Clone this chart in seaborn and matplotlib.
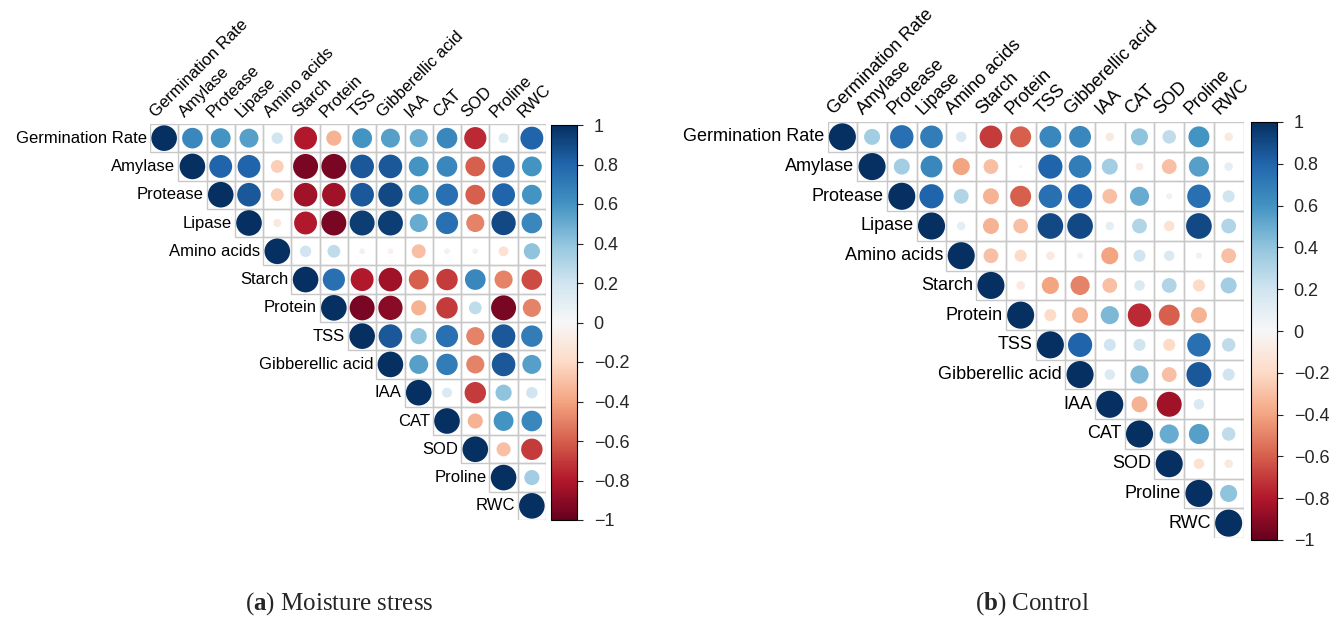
import numpy as np
import pandas as pd
import matplotlib.pyplot as plt
import seaborn as sns
from matplotlib.patches import Rectangle
from matplotlib.colors import Normalize
from matplotlib.cm import ScalarMappable

## variables (same order for rows and columns)
variables = ['Germination Rate', 'Amylase', 'Protease', 'Lipase', 'Amino acids',
             'Starch', 'Protein', 'TSS', 'Gibberellic acid', 'IAA', 'CAT', 'SOD',
             'Proline', 'RWC']

## upper triangle, row by row, values to the right of the diagonal
stress_rows = [
    [0.65, 0.60, 0.55, 0.20, -0.80, -0.35, 0.60, 0.55, 0.50, 0.65, -0.75, 0.15, 0.80],
    [0.80, 0.80, -0.25, -0.95, -0.95, 0.85, 0.85, 0.60, 0.65, -0.60, 0.75, 0.60],
    [0.85, -0.25, -0.85, -0.85, 0.85, 0.90, 0.60, 0.75, -0.60, 0.80, 0.60],
    [-0.10, -0.80, -0.95, 0.95, 0.95, 0.50, 0.75, -0.50, 0.90, 0.65],
    [0.20, 0.25, 0.05, -0.05, -0.30, 0.05, 0.05, -0.15, 0.40],
    [0.75, -0.80, -0.85, -0.60, -0.70, 0.65, -0.50, -0.65],
    [-0.95, -0.90, -0.35, -0.70, 0.25, -0.95, -0.50],
    [0.85, 0.40, 0.75, -0.50, 0.85, 0.70],
    [0.55, 0.70, -0.50, 0.85, 0.55],
    [0.15, -0.70, 0.40, 0.20],
    [-0.35, 0.60, 0.65],
    [-0.30, -0.70],
    [0.35],
]

control_rows = [
    [0.35, 0.75, 0.70, 0.15, -0.70, -0.60, 0.65, 0.65, -0.10, 0.40, 0.25, 0.60, -0.10],
    [0.35, 0.65, -0.40, -0.30, 0.02, 0.80, 0.70, 0.35, -0.08, -0.30, 0.55, 0.10],
    [0.80, 0.30, -0.35, -0.60, 0.75, 0.80, -0.30, 0.50, 0.05, 0.75, 0.20],
    [0.10, -0.35, -0.30, 0.90, 0.90, 0.10, 0.30, -0.15, 0.90, 0.30],
    [-0.30, -0.20, -0.10, 0.05, -0.40, 0.20, 0.15, 0.05, -0.30],
    [-0.10, -0.40, -0.50, -0.30, 0.15, 0.30, -0.20, 0.35],
    [-0.20, -0.35, 0.45, -0.75, -0.60, -0.35, 0.00],
    [0.80, 0.20, 0.20, -0.20, 0.75, 0.25],
    [0.15, 0.45, -0.30, 0.85, 0.20],
    [-0.35, -0.85, 0.15, 0.00],
    [0.50, 0.55, 0.25],
    [-0.15, -0.10],
    [0.40],
]

captions = [r'($\mathbf{a}$) Moisture stress', r'($\mathbf{b}$) Control']

sns.set_theme(style='white')
plt.rcParams['font.family'] = ['Liberation Sans', 'DejaVu Sans']
plt.rcParams['mathtext.fontset'] = 'custom'
plt.rcParams['mathtext.rm'] = 'Liberation Serif'
plt.rcParams['mathtext.bf'] = 'Liberation Serif:bold'

n = len(variables)


def long_table(rows):
    ## build upper triangle (diagonal = 1) as a long table
    recs = []
    for i in range(n):
        recs.append((i, i, 1.0))
        for k, r in enumerate(rows[i] if i < len(rows) else []):
            recs.append((i, i + 1 + k, r))
    df = pd.DataFrame(recs, columns=['row', 'col', 'r'])
    df['size'] = df['r'].abs()
    return df


def corr_panel(ax, df, smax, fs):
    for i in range(n):
        for j in range(i, n):
            ax.add_patch(Rectangle((j - 0.5, i - 0.5), 1, 1, facecolor='none',
                                   edgecolor='#c8c8c8', lw=1, zorder=1))
    sns.scatterplot(data=df, x='col', y='row', hue='r', size='size', palette='RdBu',
                    hue_norm=(-1, 1), size_norm=(0, 1), sizes=(0, smax),
                    linewidth=0, legend=False, ax=ax, zorder=2)
    ax.set_xlim(-0.5, n - 0.5)
    ax.set_ylim(n - 0.5, -0.5)
    ax.set_aspect('equal')
    ax.axis('off')
    for i, name in enumerate(variables):
        ax.text(i - 0.6, i, name, ha='right', va='center', fontsize=fs, color='black')
        ax.text(i - 0.2, -0.65, name, ha='left', va='bottom', rotation=45,
                rotation_mode='anchor', fontsize=fs, color='black')


def add_cbar(fig, rect, fs):
    cax = fig.add_axes(rect)
    sm = ScalarMappable(norm=Normalize(-1, 1), cmap='RdBu')
    ticks = np.round(np.arange(-1, 1.01, 0.2), 1) + 0.0
    cb = fig.colorbar(sm, cax=cax, ticks=ticks)
    labels = ['0' if abs(t) < 1e-9 else f'{t:g}'.replace('-', '\u2212') for t in ticks]
    cb.ax.set_yticklabels(labels)
    cb.ax.tick_params(labelsize=fs, length=4, width=0.8, direction='out', pad=8, right=True)
    cb.outline.set_linewidth(0.8)
    cb.outline.set_edgecolor('black')


fig = plt.figure(figsize=(13.31, 6.24), dpi=100)

ax1 = fig.add_axes([150 / 1331, 1 - 520 / 624, 396 / 1331, 396 / 624])
corr_panel(ax1, long_table(stress_rows), 340, 12)
add_cbar(fig, [551 / 1331, 1 - 520 / 624, 26 / 1331, 395 / 624], 13)

ax2 = fig.add_axes([827 / 1331, 1 - 538 / 624, 417 / 1331, 416 / 624])
corr_panel(ax2, long_table(control_rows), 380, 13)
add_cbar(fig, [1251 / 1331, 1 - 540 / 624, 26 / 1331, 418 / 624], 13)

fig.text(245 / 1331, 1 - 604 / 624, captions[0], fontsize=18, va='center',
         family='Liberation Serif')
fig.text(975 / 1331, 1 - 604 / 624, captions[1], fontsize=18, va='center',
         family='Liberation Serif')

fig.savefig('out.png', dpi=100)
